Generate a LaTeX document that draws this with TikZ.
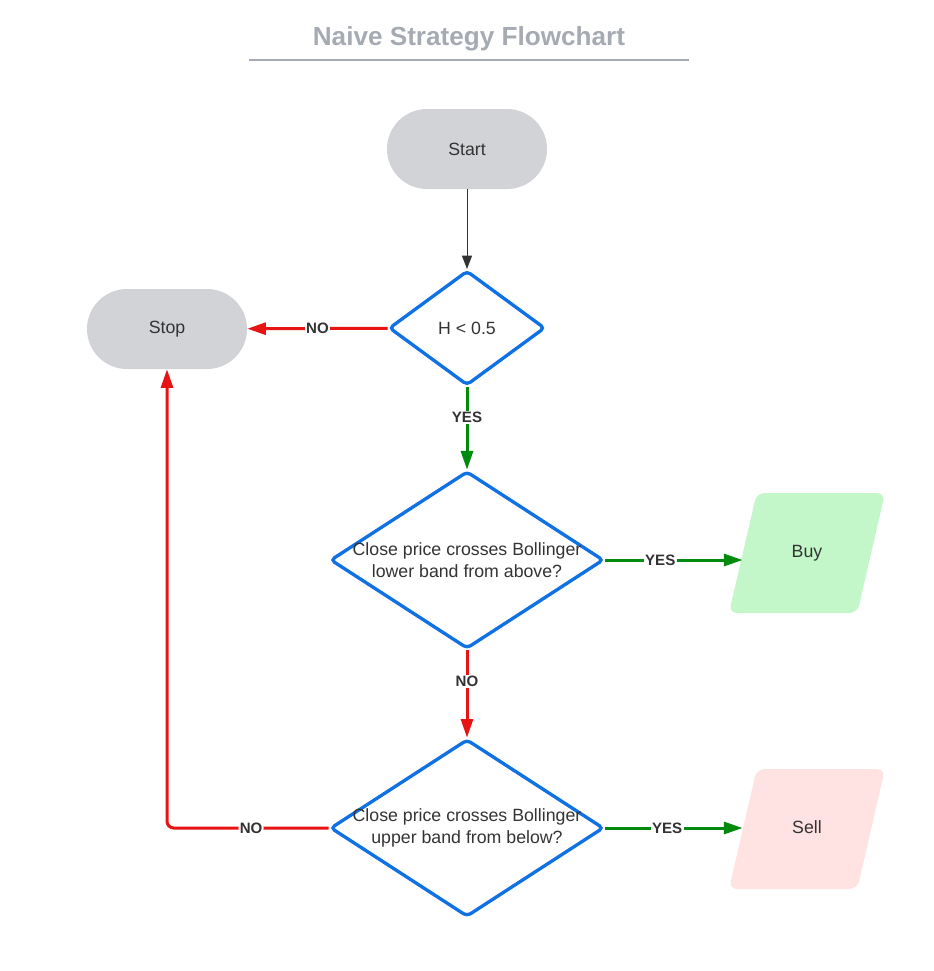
\documentclass[tikz,border=0pt]{standalone}
\usepackage{fontspec}
\setmainfont{Liberation Sans}
\usepackage{xcolor}
\usetikzlibrary{shapes.geometric, arrows.meta, positioning, calc}
\definecolor{flowblue}{HTML}{1071E5}
\definecolor{flowred}{HTML}{E81313}
\definecolor{flowgreen}{HTML}{008A0E}
\definecolor{flowtext}{HTML}{333333}
\definecolor{termgray}{HTML}{D1D3D6}
\definecolor{titlegray}{HTML}{A6AAB2}
\definecolor{buygreen}{HTML}{C3F6C8}
\definecolor{sellpink}{HTML}{FFE2E2}

\begin{document}
\begin{tikzpicture}[
    x=0.75pt, y=-0.75pt,
    title/.style={
        font=\bfseries\fontsize{19.6}{23}\selectfont,
        text=titlegray
    },
    terminal/.style={
        rectangle,
        rounded corners=30pt,
        fill=termgray,
        minimum width=120pt,
        minimum height=60pt,
        text=flowtext,
        font=\fontsize{13.3}{16}\selectfont
    },
    decision/.style={
        diamond,
        draw=flowblue,
        line width=2.5pt,
        rounded corners=3pt,
        inner sep=0pt,
        text=flowtext,
        font=\fontsize{13.3}{16}\selectfont
    },
    dtext/.style={
        align=center,
        text=flowtext,
        font=\fontsize{13.3}{16}\selectfont
    },
    io/.style={
        trapezium,
        trapezium left angle=77,
        trapezium right angle=103,
        trapezium stretches body=true,
        minimum width=117pt,
        text height=10pt,
        text depth=3pt,
        inner ysep=38.5pt,
        rounded corners=6pt,
        text=flowtext,
        font=\fontsize{13.3}{16}\selectfont
    },
    thinarrow/.style={
        -{Triangle[length=10pt,width=7.5pt]},
        line width=0.75pt,
        draw=flowtext
    },
    yesarrow/.style={
        -{Triangle[length=14pt,width=9pt]},
        line width=2.25pt,
        draw=flowgreen
    },
    noarrow/.style={
        -{Triangle[length=14pt,width=9pt]},
        line width=2.25pt,
        draw=flowred
    },
    edgelabel/.style={
        fill=white,
        inner sep=1pt,
        text=flowtext,
        font=\bfseries\fontsize{11.3}{13}\selectfont
    }
]
\useasboundingbox (0,0) rectangle (933,971);

% title
\node[title] (heading) at (469,39) {Naive Strategy Flowchart};
\draw[titlegray, line width=1.5pt] (249,60) -- (689,60);

% nodes
\node[terminal] (start) at (467,149) {Start};
\node[decision, minimum width=117pt, minimum height=86pt] (hurst) at (467,328) {H < 0.5};
\node[terminal] (stop) at (167,329) {Stop};
\node[decision, minimum width=205pt, minimum height=133pt,
      label={[dtext]center:Close price crosses Bollinger\\lower band from above?}] (lower) at (467,560) {};
\node[io, fill=buygreen] (buy) at (807,553) {Buy};
\node[decision, minimum width=205pt, minimum height=133pt,
      label={[dtext]center:Close price crosses Bollinger\\upper band from below?}] (upper) at (467,828) {};
\node[io, fill=sellpink] (sell) at (807,829) {Sell};

% connectors
\draw[thinarrow] (start) -- (hurst);
\draw[noarrow] (hurst) -- node[edgelabel]{NO} (stop);
\draw[yesarrow] (hurst) -- node[edgelabel, pos=0.37]{YES} (lower);
\draw[yesarrow] (lower.east) -- node[edgelabel, pos=0.4]{YES} (lower.east -| buy.west);
\draw[noarrow] (lower) -- node[edgelabel, pos=0.36]{NO} (upper);
\draw[yesarrow] (upper.east) -- node[edgelabel, pos=0.45]{YES} (upper.east -| sell.west);
\draw[noarrow, rounded corners=5pt] (upper.west) -| node[edgelabel, pos=0.24]{NO} (stop.south);

\end{tikzpicture}
\end{document}
